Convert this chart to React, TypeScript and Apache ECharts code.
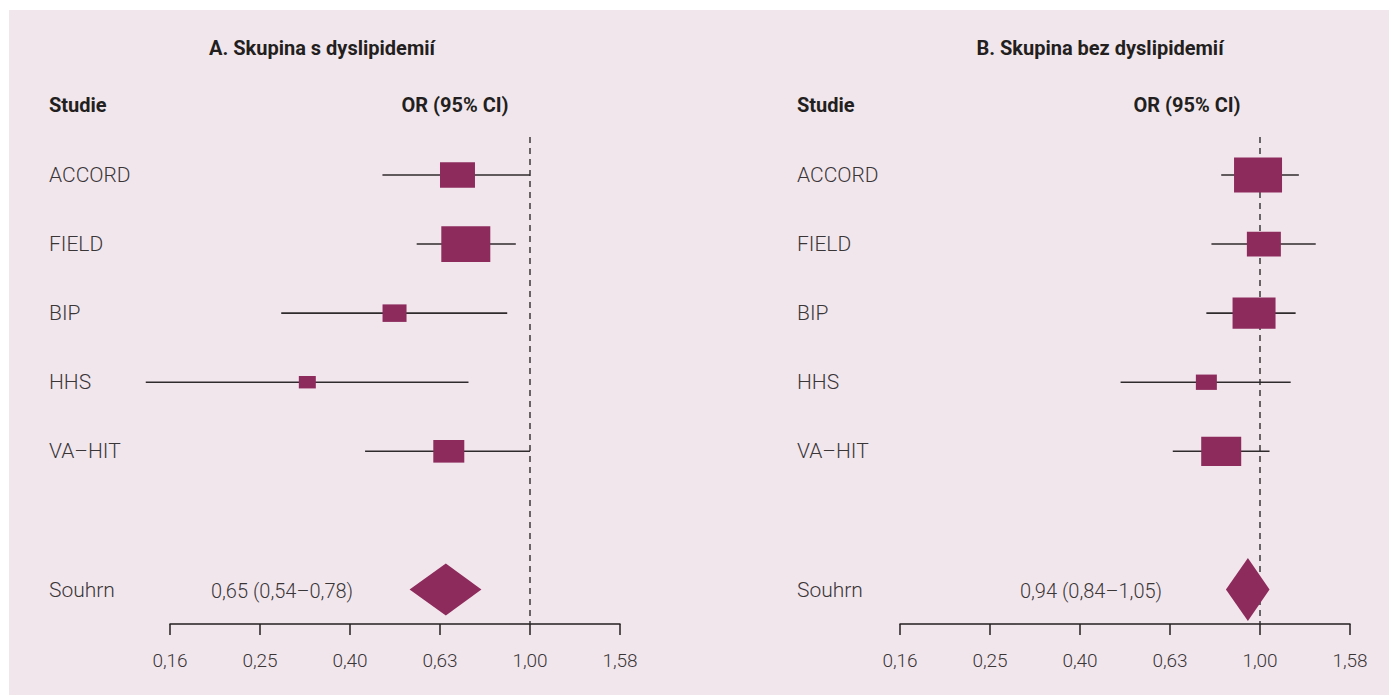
import React, { useEffect, useRef } from "react";
import * as echarts from "echarts";

// ---- data ----
const studies = ["ACCORD", "FIELD", "BIP", "HHS", "VA–HIT"];
const summaryName = "Souhrn";
const titleA = "A. Skupina s dyslipidemií";
const titleB = "B. Skupina bez dyslipidemií";
const colStudy = "Studie";
const colOR = "OR (95% CI)";

// Panel A – with dyslipidemia (OR, lower CI, upper CI, relative weight)
const orA = [0.69, 0.72, 0.5, 0.32, 0.66];
const loA = [0.47, 0.56, 0.28, 0.14, 0.43];
const hiA = [1.0, 0.93, 0.89, 0.73, 1.0];
const weightA = [3.5, 4.9, 2.4, 1.7, 3.1];
const summaryA = [0.65, 0.54, 0.78];

// Panel B – without dyslipidemia
const orB = [0.99, 1.02, 0.97, 0.76, 0.82];
const loB = [0.82, 0.78, 0.76, 0.49, 0.64];
const hiB = [1.22, 1.33, 1.2, 1.17, 1.05];
const weightB = [4.8, 3.4, 4.3, 2.1, 4.0];
const summaryB = [0.94, 0.84, 1.05];

const tickValues = [0.16, 0.25, 0.4, 0.63, 1.0, 1.58];

// ---- styles ----
const BOX = "#8d2b5c";
const LINE = "#2f2b2d";
const TXT = "#3a3638";
const DARK = "#231f20";
const BG = "#f2e6ed";
const FONT = "Roboto, 'Noto Sans', sans-serif";
const BOX_SCALE = 10;
const BOX_ASPECT = 0.73;
const SUMMARY_ROW = 6;

const lg = (v: number) => Math.log10(v);
const fmt = (v: number) => v.toFixed(2).replace(".", ",");
const tickLabel = (v: number) => {
  const real = Math.pow(10, v);
  let best = tickValues[0];
  for (const t of tickValues) if (Math.abs(lg(t) - lg(real)) < Math.abs(lg(best) - lg(real))) best = t;
  return fmt(best);
};

function forestRender(labelX: number) {
  return (params: any, api: any) => {
    const row = api.value(0);
    const c = api.coord([api.value(1), row]);
    const l = api.coord([api.value(2), row]);
    const h = api.coord([api.value(3), row]);
    const w = api.value(4) * BOX_SCALE;
    const bh = w * BOX_ASPECT;
    return {
      type: "group",
      children: [
        {
          type: "line",
          shape: { x1: l[0], y1: l[1], x2: h[0], y2: h[1] },
          style: { stroke: LINE, lineWidth: 1.6 },
        },
        {
          type: "rect",
          shape: { x: c[0] - w / 2, y: c[1] - bh / 2, width: w, height: bh },
          style: { fill: BOX },
        },
        {
          type: "text",
          x: labelX,
          y: c[1],
          style: {
            text: studies[params.dataIndex],
            fill: TXT,
            fontSize: 21,
            fontWeight: 300,
            fontFamily: FONT,
            align: "left",
            verticalAlign: "middle",
            textAlign: "left",
            textVerticalAlign: "middle",
          },
        },
      ],
    };
  };
}

function diamondRender(labelX: number, height: number) {
  return (params: any, api: any) => {
    const row = api.value(0);
    const c = api.coord([api.value(1), row]);
    const l = api.coord([api.value(2), row]);
    const h = api.coord([api.value(3), row]);
    return {
      type: "group",
      children: [
        {
          type: "polygon",
          shape: {
            points: [
              [l[0], c[1]],
              [c[0], c[1] - height / 2],
              [h[0], c[1]],
              [c[0], c[1] + height / 2],
            ],
          },
          style: { fill: BOX },
        },
        {
          type: "text",
          x: labelX,
          y: c[1] + 1,
          style: {
            text: summaryName,
            fill: TXT,
            fontSize: 21,
            fontWeight: 300,
            fontFamily: FONT,
            align: "left",
            verticalAlign: "middle",
            textAlign: "left",
            textVerticalAlign: "middle",
          },
        },
      ],
    };
  };
}

function panelSeries(
  idx: number,
  or: number[],
  lo: number[],
  hi: number[],
  wt: number[],
  sum: number[],
  labelX: number,
  diamondH: number
) {
  return [
    {
      type: "line",
      xAxisIndex: idx,
      yAxisIndex: idx,
      data: [
        [0, -0.55],
        [0, 6.5],
      ],
      symbol: "none",
      lineStyle: { color: LINE, width: 1.4, type: [6, 5] },
      z: 1,
      silent: true,
    },
    {
      type: "custom",
      xAxisIndex: idx,
      yAxisIndex: idx,
      renderItem: forestRender(labelX),
      encode: { x: [1, 2, 3], y: 0 },
      data: studies.map((_, i) => [i, lg(or[i]), lg(lo[i]), lg(hi[i]), wt[i]]),
      clip: false,
      z: 3,
    },
    {
      type: "custom",
      xAxisIndex: idx,
      yAxisIndex: idx,
      renderItem: diamondRender(labelX, diamondH),
      encode: { x: [1, 2, 3], y: 0 },
      data: [[SUMMARY_ROW, lg(sum[0]), lg(sum[1]), lg(sum[2])]],
      clip: false,
      z: 3,
    },
  ];
}

const xAxisBase = (gridIndex: number) => ({
  type: "value",
  gridIndex,
  min: -0.8,
  max: 0.2,
  interval: 0.2,
  position: "bottom",
  splitLine: { show: false },
  axisLine: { show: true, onZero: false, lineStyle: { color: DARK, width: 1.5 } },
  axisTick: { show: true, inside: false, length: 11, lineStyle: { color: DARK, width: 1.5 } },
  axisLabel: {
    formatter: (v: number) => tickLabel(v),
    color: TXT,
    fontSize: 19,
    fontWeight: 300,
    fontFamily: FONT,
    margin: 27,
  },
});

const yAxisBase = (gridIndex: number) => ({
  type: "value",
  gridIndex,
  min: -0.55,
  max: 6.5,
  inverse: true,
  show: false,
});

const textEl = (text: string, x: number, y: number, align: string, bold: boolean, size: number) => ({
  type: "text",
  x,
  y,
  style: {
    text,
    fill: bold ? DARK : TXT,
    fontSize: size,
    fontWeight: bold ? 700 : 300,
    fontFamily: FONT,
    align,
    verticalAlign: "middle",
    textAlign: align,
    textVerticalAlign: "middle",
  },
});

const summaryText = (s: number[]) => `${fmt(s[0])} (${fmt(s[1])}–${fmt(s[2])})`;

export default function App() {
  const ref = useRef<HTMLDivElement>(null);
  useEffect(() => {
    if (!ref.current) return;
    const chart = echarts.init(ref.current, undefined, { renderer: "svg" });
    chart.setOption({
      animation: false,
      backgroundColor: "#ffffff",
      grid: [
        { left: 170, width: 450, top: 137, height: 487 },
        { left: 900, width: 450, top: 137, height: 487 },
      ],
      xAxis: [xAxisBase(0), xAxisBase(1)],
      yAxis: [yAxisBase(0), yAxisBase(1)],
      graphic: [
        { type: "rect", shape: { x: 9, y: 10, width: 1380, height: 685 }, style: { fill: BG }, z: -10 },
        textEl(titleA, 322, 48, "center", true, 20),
        textEl(titleB, 1100, 48, "center", true, 20),
        textEl(colStudy, 49, 105, "left", true, 20),
        textEl(colOR, 455, 105, "center", true, 20),
        textEl(colStudy, 797, 105, "left", true, 20),
        textEl(colOR, 1187, 105, "center", true, 20),
        textEl(summaryText(summaryA), 282, 591, "center", false, 20),
        textEl(summaryText(summaryB), 1091, 591, "center", false, 20),
      ],
      series: [
        ...panelSeries(0, orA, loA, hiA, weightA, summaryA, 49, 52),
        ...panelSeries(1, orB, loB, hiB, weightB, summaryB, 797, 63),
      ],
    });
    return () => chart.dispose();
  }, []);
  return (
    <div
      ref={ref}
      style={{ position: "absolute", left: 0, top: 0, width: 1389, height: 695 }}
    />
  );
}
